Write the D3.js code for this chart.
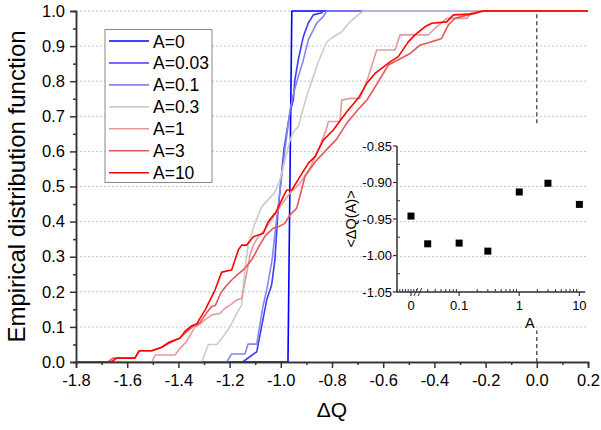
<!DOCTYPE html>
<html>
<head>
<meta charset="utf-8">
<script src="https://cdn.jsdelivr.net/npm/d3@7"></script>
<style>
body { margin: 0; background: #fff; }
svg { font-family: "Liberation Sans", Arial, sans-serif; }
</style>
</head>
<body>
<div id="chart"></div>
<script>
// legend entries and line colours
var seriesNames  = ["A=0", "A=0.03", "A=0.1", "A=0.3", "A=1", "A=3", "A=10"];
var seriesColors = ["#0000ff", "#3c3cff", "#8585f0", "#cccccc", "#e59a9a", "#e65656", "#ff0000"];

// empirical distribution curves, [dQ, F]
var cdfA0 = [[-1.8,0],[-0.972,0],[-0.957,1],[0.2,1]];
var cdfA003 = [[-1.8,0],[-1.149,0],[-1.094,0.029],[-1.075,0.101],[-1.055,0.177],[-1.036,0.219],[-1.023,0.291],
  [-1.012,0.419],[-1.003,0.490],[-0.988,0.604],[-0.964,0.712],[-0.951,0.746],[-0.945,0.803],[-0.932,0.860],
  [-0.912,0.927],[-0.893,0.965],[-0.873,0.989],[-0.840,0.995],[-0.835,1],[0.2,1]];
var cdfA01 = [[-1.8,0],[-1.211,0],[-1.192,0.023],[-1.140,0.023],[-1.128,0.051],[-1.094,0.051],[-1.070,0.158],
  [-1.055,0.205],[-1.034,0.291],[-1.019,0.390],[-1.003,0.490],[-0.984,0.604],[-0.964,0.718],[-0.952,0.760],
  [-0.932,0.813],[-0.912,0.860],[-0.893,0.917],[-0.860,0.965],[-0.834,0.984],[-0.821,1],[0.2,1]];
var cdfA03 = [[-1.8,0],[-1.309,0],[-1.283,0.050],[-1.250,0.050],[-1.225,0.072],[-1.198,0.101],[-1.172,0.139],
  [-1.153,0.162],[-1.140,0.262],[-1.127,0.338],[-1.101,0.395],[-1.075,0.442],[-1.050,0.462],[-1.023,0.484],
  [-1.003,0.519],[-0.984,0.575],[-0.964,0.632],[-0.951,0.656],[-0.932,0.670],[-0.914,0.718],[-0.894,0.769],
  [-0.873,0.813],[-0.855,0.852],[-0.834,0.889],[-0.820,0.912],[-0.795,0.926],[-0.762,0.941],[-0.730,0.969],
  [-0.697,0.989],[-0.678,1],[0.2,1]];
var cdfA1 = [[-1.8,0],[-1.504,0],[-1.491,0.020],[-1.413,0.020],[-1.394,0.039],[-1.368,0.058],[-1.335,0.101],
  [-1.322,0.105],[-1.296,0.120],[-1.270,0.134],[-1.237,0.139],[-1.218,0.153],[-1.198,0.162],[-1.172,0.177],
  [-1.153,0.181],[-1.133,0.253],[-1.120,0.305],[-1.107,0.333],[-1.088,0.357],[-1.075,0.366],[-1.055,0.385],
  [-1.029,0.414],[-1.003,0.442],[-0.984,0.462],[-0.964,0.481],[-0.925,0.509],[-0.886,0.552],[-0.854,0.604],
  [-0.834,0.640],[-0.821,0.666],[-0.814,0.685],[-0.769,0.685],[-0.762,0.746],[-0.730,0.751],[-0.691,0.751],
  [-0.664,0.800],[-0.625,0.889],[-0.554,0.889],[-0.534,0.932],[-0.424,0.932],[-0.391,0.955],[-0.352,0.979],
  [-0.274,0.979],[-0.248,1],[0.2,1]];
var cdfA3 = [[-1.8,0],[-1.675,0],[-1.655,0.011],[-1.570,0.011],[-1.553,0.032],[-1.504,0.032],[-1.465,0.042],
  [-1.433,0.055],[-1.394,0.068],[-1.370,0.085],[-1.345,0.100],[-1.316,0.112],[-1.290,0.140],[-1.270,0.158],
  [-1.255,0.162],[-1.235,0.196],[-1.215,0.215],[-1.190,0.235],[-1.170,0.248],[-1.140,0.267],[-1.110,0.295],
  [-1.085,0.330],[-1.060,0.360],[-1.030,0.381],[-1.010,0.385],[-0.984,0.395],[-0.964,0.419],[-0.938,0.438],
  [-0.905,0.530],[-0.866,0.570],[-0.821,0.605],[-0.782,0.635],[-0.743,0.680],[-0.697,0.720],[-0.664,0.746],
  [-0.639,0.775],[-0.580,0.846],[-0.495,0.879],[-0.456,0.903],[-0.430,0.908],[-0.391,0.917],[-0.372,0.922],
  [-0.346,0.960],[-0.320,0.979],[-0.268,0.989],[-0.241,0.993],[-0.215,1],[0.2,1]];
var cdfA10 = [[-1.8,0],[-1.661,0],[-1.641,0.011],[-1.570,0.011],[-1.553,0.032],[-1.504,0.032],[-1.465,0.042],
  [-1.433,0.058],[-1.394,0.068],[-1.374,0.088],[-1.348,0.103],[-1.329,0.108],[-1.296,0.148],[-1.257,0.205],
  [-1.231,0.256],[-1.192,0.262],[-1.166,0.319],[-1.153,0.333],[-1.133,0.333],[-1.107,0.357],[-1.068,0.367],
  [-1.050,0.399],[-1.019,0.427],[-0.990,0.471],[-0.977,0.490],[-0.957,0.490],[-0.925,0.528],[-0.893,0.566],
  [-0.866,0.585],[-0.834,0.632],[-0.795,0.661],[-0.743,0.712],[-0.697,0.752],[-0.664,0.794],[-0.632,0.822],
  [-0.573,0.855],[-0.541,0.870],[-0.502,0.912],[-0.476,0.932],[-0.437,0.955],[-0.410,0.965],[-0.352,0.969],
  [-0.326,0.989],[-0.261,0.991],[-0.228,0.997],[-0.202,1],[0.2,1]];
var curves = [cdfA0, cdfA003, cdfA01, cdfA03, cdfA1, cdfA3, cdfA10];

// inset: mean shift vs A
var insetA    = [0, 0.03, 0.1, 0.3, 1, 3, 10];
var insetMean = [-0.946, -0.984, -0.983, -0.994, -0.913, -0.901, -0.930];

// ticks
var xTickVals = [-1.8, -1.6, -1.4, -1.2, -1.0, -0.8, -0.6, -0.4, -0.2, 0.0, 0.2];
var yTickVals = [0, 0.1, 0.2, 0.3, 0.4, 0.5, 0.6, 0.7, 0.8, 0.9, 1.0];
var insetYTicks = [-1.05, -1.00, -0.95, -0.90, -0.85];
var insetXTicks = [0, 0.1, 1, 10];
var insetXLabels = ["0", "0.1", "1", "10"];

// dashed reference line at dQ = 0 (hidden behind the inset)
var refX = 0;
var refSpans = [[0.68, 1.0], [0.0, 0.09]];

var W = 601, H = 430;
var svg = d3.select("#chart").append("svg").attr("width", W).attr("height", H);

var x = d3.scaleLinear().domain([-1.8, 0.2]).range([76, 588]);
var y = d3.scaleLinear().domain([0, 1]).range([362, 11]);

// grid
svg.append("g").selectAll("line").data(yTickVals).enter().append("line")
  .attr("x1", x(-1.8)).attr("x2", x(0.2))
  .attr("y1", d => y(d)).attr("y2", d => y(d))
  .attr("stroke", "#c4c4c4").attr("stroke-width", 1).attr("stroke-dasharray", "2,2");

// reference line
svg.append("g").selectAll("line").data(refSpans).enter().append("line")
  .attr("x1", x(refX)).attr("x2", x(refX))
  .attr("y1", d => y(d[0])).attr("y2", d => y(d[1]))
  .attr("stroke", "#333").attr("stroke-width", 1.2).attr("stroke-dasharray", "4,3");

// curves
var line = d3.line().x(d => x(d[0])).y(d => y(d[1]));
svg.append("g").selectAll("path").data(curves).enter().append("path")
  .attr("d", line)
  .attr("fill", "none")
  .attr("stroke", (d, i) => seriesColors[i])
  .attr("stroke-width", 1.6)
  .attr("stroke-linejoin", "round");

// axes
function styleAxis(g) {
  g.select(".domain").attr("stroke", "#333").attr("stroke-width", 1.5);
  g.selectAll(".tick line").attr("stroke", "#333").attr("stroke-width", 1.5);
  g.selectAll("text").attr("fill", "#000").style("font-family", "Liberation Sans, Arial, sans-serif");
}
var xMinor = d3.range(-1.7, 0.2, 0.2);
var yMinor = d3.range(0.05, 1, 0.1);

var gx = svg.append("g").attr("transform", "translate(0," + y(0) + ")")
  .call(d3.axisBottom(x).tickValues(xTickVals).tickSize(6).tickPadding(6)
    .tickFormat(d => d.toFixed(1)));
gx.selectAll("text").style("font-size", "16.5px");
styleAxis(gx);
var gxm = svg.append("g").attr("transform", "translate(0," + y(0) + ")")
  .call(d3.axisBottom(x).tickValues(xMinor).tickSize(3).tickFormat(""));
styleAxis(gxm);

var gy = svg.append("g").attr("transform", "translate(" + x(-1.8) + ",0)")
  .call(d3.axisLeft(y).tickValues(yTickVals).tickSize(6).tickPadding(5)
    .tickFormat(d => d.toFixed(1)));
gy.selectAll("text").style("font-size", "16.5px");
styleAxis(gy);
var gym = svg.append("g").attr("transform", "translate(" + x(-1.8) + ",0)")
  .call(d3.axisLeft(y).tickValues(yMinor).tickSize(3).tickFormat(""));
styleAxis(gym);

svg.append("text")
  .attr("transform", "translate(25," + ((y(0) + y(1)) / 2) + ") rotate(-90)")
  .attr("text-anchor", "middle")
  .style("font-size", "24px")
  .text("Empirical distribution function");

svg.append("text")
  .attr("x", x(-0.8)).attr("y", 417)
  .attr("text-anchor", "middle")
  .style("font-size", "21px")
  .text("\u0394Q");

// legend
var leg = svg.append("g");
leg.append("rect").attr("x", 105).attr("y", 29.5).attr("width", 107).attr("height", 153)
  .attr("fill", "#fff").attr("stroke", "#888").attr("stroke-width", 1);
var rows = leg.selectAll("g.row").data(seriesNames).enter().append("g")
  .attr("class", "row")
  .attr("transform", (d, i) => "translate(0," + (41 + i * 21.95) + ")");
rows.append("line").attr("x1", 109).attr("x2", 149).attr("y1", 0).attr("y2", 0)
  .attr("stroke", (d, i) => seriesColors[i]).attr("stroke-width", 1.6);
rows.append("text").attr("x", 153).attr("y", 6.5)
  .style("font-size", "17.5px").text(d => d);

// inset
var iy = d3.scaleLinear().domain([-1.05, -0.85]).range([292, 146]);
var ixZero = d3.scaleLinear().domain([-0.01, 0.01]).range([397, 425]);
var ixLog = d3.scaleLog().domain([0.0215, 12.4]).range([419, 585]);
function ix(a) { return a === 0 ? ixZero(a) : ixLog(a); }

var inset = svg.append("g");
inset.append("line").attr("x1", 397).attr("x2", 585).attr("y1", iy(-1.05)).attr("y2", iy(-1.05))
  .attr("stroke", "#333").attr("stroke-width", 1.5);
inset.append("line").attr("x1", 397).attr("x2", 397).attr("y1", iy(-1.05)).attr("y2", iy(-0.85))
  .attr("stroke", "#333").attr("stroke-width", 1.5);

// inset y ticks
inset.selectAll("line.iyt").data(insetYTicks).enter().append("line")
  .attr("x1", 393).attr("x2", 397).attr("y1", d => iy(d)).attr("y2", d => iy(d))
  .attr("stroke", "#333").attr("stroke-width", 1.2);
inset.selectAll("line.iym").data(d3.range(-1.025, -0.85, 0.05)).enter().append("line")
  .attr("x1", 397).attr("x2", 400).attr("y1", d => iy(d)).attr("y2", d => iy(d))
  .attr("stroke", "#333").attr("stroke-width", 1);
inset.selectAll("text.iyl").data(insetYTicks).enter().append("text")
  .attr("x", 392).attr("y", d => iy(d) + 4.5)
  .attr("text-anchor", "end").style("font-size", "13px")
  .text(d => d.toFixed(2));

// inset x ticks
var logMinor = [];
[0.01, 0.1, 1].forEach(function(p) { d3.range(2, 10).forEach(function(k) { logMinor.push(p * k); }); });
logMinor = logMinor.filter(v => v > 0.025 && v < 12);
inset.selectAll("line.ixm").data(logMinor).enter().append("line")
  .attr("x1", d => ixLog(d)).attr("x2", d => ixLog(d)).attr("y1", 289).attr("y2", 292)
  .attr("stroke", "#333").attr("stroke-width", 1);
inset.selectAll("line.ixz").data(d3.range(-0.01, 0.0045, 0.002)).enter().append("line")
  .attr("x1", d => ixZero(d)).attr("x2", d => ixZero(d)).attr("y1", 289).attr("y2", 292)
  .attr("stroke", "#333").attr("stroke-width", 1);
inset.selectAll("line.ixt").data(insetXTicks).enter().append("line")
  .attr("x1", d => ix(d)).attr("x2", d => ix(d)).attr("y1", 292).attr("y2", 296)
  .attr("stroke", "#333").attr("stroke-width", 1.2);
inset.selectAll("text.ixl").data(insetXTicks).enter().append("text")
  .attr("x", d => ix(d)).attr("y", 310)
  .attr("text-anchor", "middle").style("font-size", "13px")
  .text((d, i) => insetXLabels[i]);
// axis break mark
inset.selectAll("line.brk").data([0, 4]).enter().append("line")
  .attr("x1", d => ixZero(0.0035) + d - 2).attr("x2", d => ixZero(0.0035) + d + 2)
  .attr("y1", 296).attr("y2", 288)
  .attr("stroke", "#333").attr("stroke-width", 1);

inset.append("text")
  .attr("transform", "translate(356," + iy(-0.95) + ") rotate(-90)")
  .attr("text-anchor", "middle").style("font-size", "14.5px")
  .text("<\u0394Q(A)>");
inset.append("text").attr("x", ixLog(1.5)).attr("y", 328)
  .attr("text-anchor", "middle").style("font-size", "14.5px").text("A");

inset.selectAll("rect.pt").data(insetA).enter().append("rect")
  .attr("x", (d) => ix(d) - 3.5)
  .attr("y", (d, i) => iy(insetMean[i]) - 3.5)
  .attr("width", 7).attr("height", 7)
  .attr("fill", "#000");
</script>
</body>
</html>
